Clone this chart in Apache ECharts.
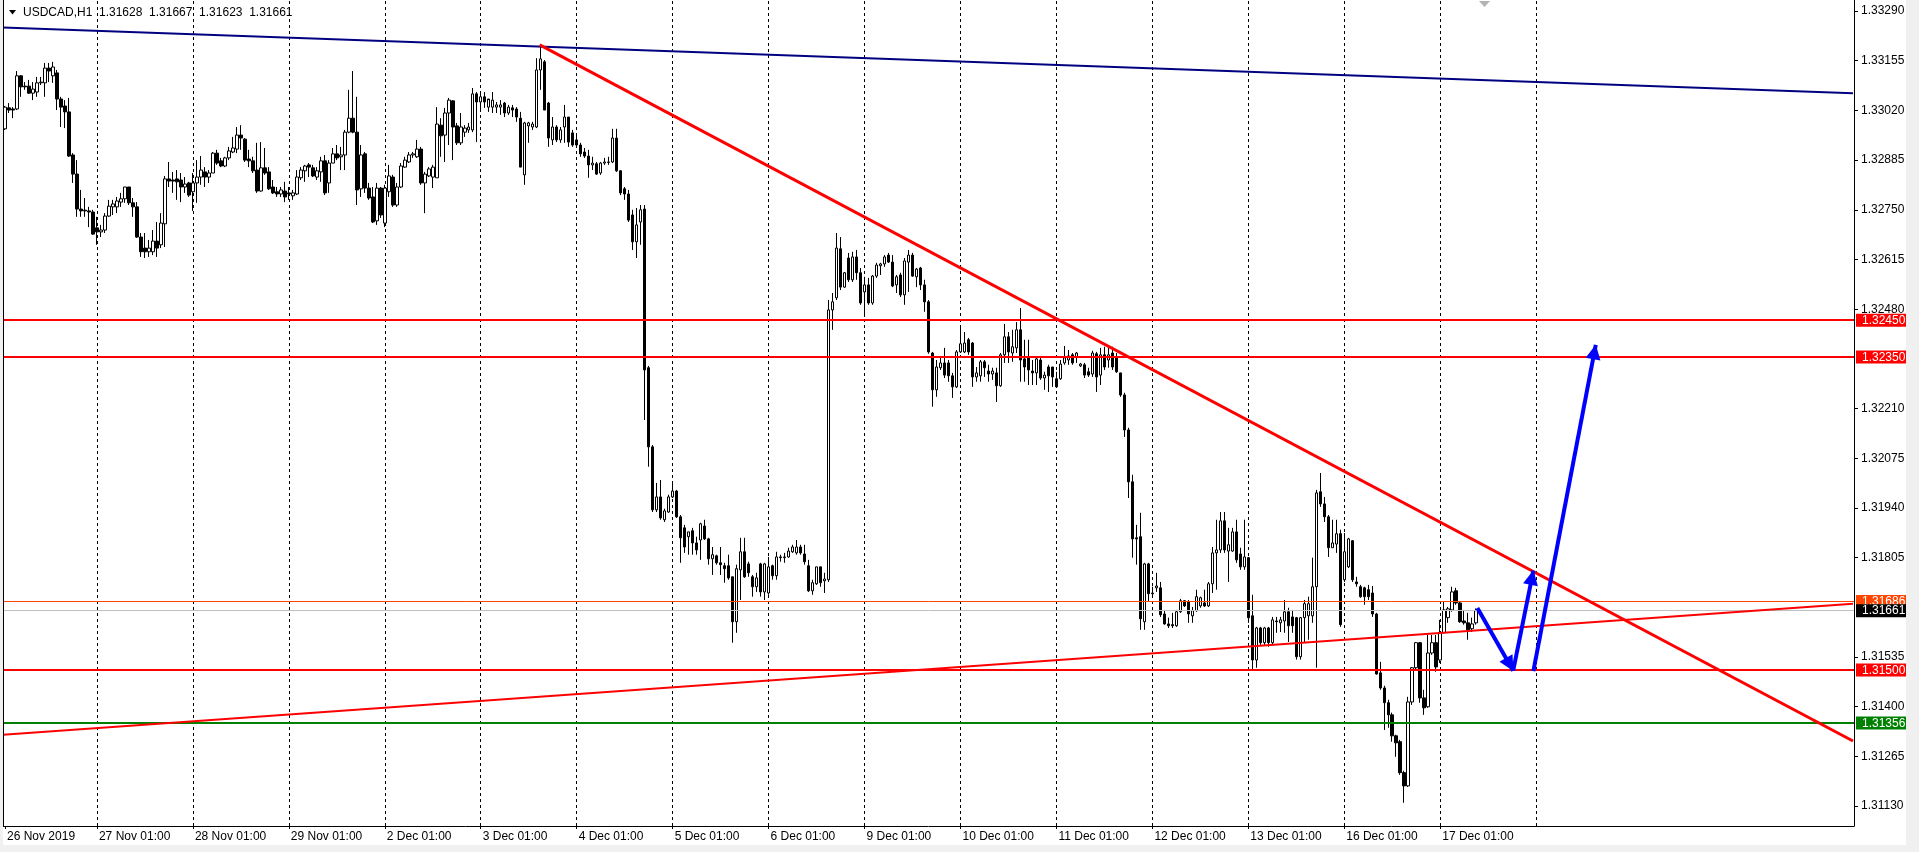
<!DOCTYPE html>
<html>
<head>
<meta charset="utf-8">
<title>USDCAD,H1</title>
<script src="https://cdn.jsdelivr.net/npm/echarts/dist/echarts.min.js"></script>
<style>
html,body{margin:0;padding:0;background:#fff;}
#chart{width:1919px;height:852px;}
</style>
</head>
<body>
<div id="chart"></div>
<script>
// ---------- DATA ----------
const symbolName = 'USDCAD,H1';
// each bar: [open, high, low, close]
const nov26 = [
[1.32970,1.33032,1.32967,1.33029],[1.33027,1.33040,1.33013,1.33021],[1.33024,1.33029,1.32999,1.33021],
[1.33024,1.33127,1.33021,1.33114],[1.33114,1.33116,1.33057,1.33084],[1.33086,1.33097,1.33076,1.33084],
[1.33086,1.33103,1.33065,1.33067],[1.33067,1.33097,1.33048,1.33078],[1.33070,1.33111,1.33057,1.33095],
[1.33095,1.33111,1.33089,1.33097],[1.33095,1.33149,1.33057,1.33135],[1.33135,1.33149,1.33097,1.33127],
[1.33114,1.33152,1.33095,1.33138],[1.33122,1.33130,1.33021,1.33051],[1.33051,1.33057,1.32975,1.33029],
[1.33032,1.33048,1.32972,1.33016],[1.33016,1.33054,1.32894,1.32896],[1.32899,1.32904,1.32823,1.32847],
[1.32847,1.32885,1.32731,1.32752],[1.32752,1.32804,1.32731,1.32747],[1.32749,1.32782,1.32731,1.32747],
[1.32747,1.32758,1.32703,1.32744],[1.32744,1.32750,1.32682,1.32684]
];
const nov27 = [
[1.32701,1.32731,1.32655,1.32690],[1.32690,1.32709,1.32676,1.32695],[1.32695,1.32741,1.32687,1.32733],
[1.32733,1.32777,1.32731,1.32760],[1.32758,1.32777,1.32736,1.32766],[1.32758,1.32785,1.32741,1.32774],
[1.32771,1.32796,1.32758,1.32780],[1.32780,1.32812,1.32769,1.32812],[1.32812,1.32812,1.32763,1.32769],
[1.32769,1.32782,1.32731,1.32758],[1.32758,1.32771,1.32674,1.32676],[1.32676,1.32687,1.32622,1.32636],
[1.32646,1.32687,1.32619,1.32636],[1.32636,1.32668,1.32622,1.32646],[1.32636,1.32695,1.32627,1.32665],
[1.32665,1.32717,1.32622,1.32646],[1.32655,1.32741,1.32646,1.32714],[1.32712,1.32842,1.32649,1.32834],
[1.32834,1.32880,1.32812,1.32828],[1.32831,1.32853,1.32796,1.32828],[1.32834,1.32858,1.32777,1.32826],
[1.32831,1.32850,1.32771,1.32812],[1.32812,1.32839,1.32796,1.32820],[1.32823,1.32826,1.32785,1.32790]
];
const nov28 = [
[1.32799,1.32850,1.32747,1.32823],[1.32823,1.32885,1.32769,1.32839],[1.32839,1.32896,1.32818,1.32858],
[1.32853,1.32866,1.32812,1.32839],[1.32839,1.32858,1.32823,1.32850],[1.32850,1.32907,1.32850,1.32904],
[1.32904,1.32913,1.32872,1.32877],[1.32883,1.32891,1.32866,1.32869],[1.32869,1.32894,1.32866,1.32891],
[1.32891,1.32921,1.32885,1.32910],[1.32907,1.32948,1.32904,1.32918],[1.32915,1.32975,1.32904,1.32953],
[1.32953,1.32980,1.32913,1.32945],[1.32942,1.32945,1.32880,1.32885],[1.32888,1.32913,1.32866,1.32883],
[1.32883,1.32894,1.32850,1.32856],[1.32858,1.32932,1.32796,1.32801],[1.32801,1.32934,1.32799,1.32864],
[1.32864,1.32918,1.32845,1.32850],[1.32853,1.32866,1.32804,1.32807],[1.32812,1.32831,1.32793,1.32796],
[1.32799,1.32812,1.32785,1.32793],[1.32793,1.32812,1.32785,1.32804],[1.32801,1.32826,1.32771,1.32785]
];
const nov29 = [
[1.32796,1.32812,1.32777,1.32793],[1.32788,1.32804,1.32777,1.32796],[1.32793,1.32858,1.32790,1.32839],
[1.32837,1.32866,1.32831,1.32858],[1.32856,1.32872,1.32826,1.32869],[1.32872,1.32877,1.32839,1.32866],
[1.32864,1.32872,1.32839,1.32842],[1.32839,1.32866,1.32831,1.32856],[1.32853,1.32894,1.32826,1.32883],
[1.32883,1.32899,1.32790,1.32796],[1.32823,1.32885,1.32796,1.32877],[1.32877,1.32918,1.32877,1.32902],
[1.32902,1.32926,1.32885,1.32891],[1.32894,1.32921,1.32858,1.32899],[1.32899,1.32967,1.32858,1.32961],
[1.32961,1.33076,1.32958,1.32999],[1.32999,1.33127,1.32958,1.32961],[1.32961,1.33057,1.32763,1.32804],
[1.32807,1.32926,1.32785,1.32899],[1.32902,1.32907,1.32796,1.32809],[1.32809,1.32823,1.32777,1.32782],
[1.32785,1.32812,1.32714,1.32717],[1.32720,1.32823,1.32709,1.32809],[1.32809,1.32812,1.32728,1.32736]
];
const dec02 = [
[1.32714,1.32818,1.32703,1.32809],[1.32799,1.32872,1.32785,1.32842],[1.32839,1.32845,1.32758,1.32763],
[1.32763,1.32823,1.32758,1.32812],[1.32812,1.32877,1.32809,1.32869],[1.32866,1.32894,1.32864,1.32885],
[1.32880,1.32907,1.32877,1.32899],[1.32899,1.32907,1.32891,1.32902],[1.32894,1.32940,1.32891,1.32915],
[1.32915,1.32921,1.32818,1.32823],[1.32823,1.32853,1.32741,1.32847],[1.32842,1.32866,1.32839,1.32861],
[1.32839,1.32872,1.32809,1.32866],[1.32837,1.33029,1.32837,1.32983],[1.32980,1.32999,1.32894,1.32951],
[1.32953,1.33027,1.32880,1.33013],[1.33013,1.33054,1.32926,1.33048],[1.33046,1.33048,1.32885,1.32975],
[1.32978,1.32986,1.32926,1.32932],[1.32932,1.33013,1.32926,1.32975],[1.32961,1.32980,1.32948,1.32972],
[1.32967,1.32986,1.32959,1.32975],[1.32967,1.33081,1.32961,1.33065],[1.33065,1.33070,1.32934,1.33043]
];
const dec03 = [
[1.33043,1.33070,1.33021,1.33057],[1.33057,1.33070,1.33027,1.33043],[1.33029,1.33048,1.33016,1.33051],
[1.33029,1.33070,1.33013,1.33048],[1.33029,1.33043,1.33013,1.33035],[1.33029,1.33048,1.33008,1.33035],
[1.33040,1.33043,1.33002,1.33013],[1.33013,1.33035,1.33008,1.33029],[1.33027,1.33035,1.33002,1.33021],
[1.33024,1.33029,1.32989,1.33002],[1.32999,1.33016,1.32866,1.32866],[1.32845,1.32989,1.32818,1.32986],
[1.32978,1.32989,1.32932,1.32986],[1.32975,1.32989,1.32967,1.32983],[1.32975,1.33162,1.32972,1.33130],
[1.33130,1.33200,1.33076,1.33160],[1.33152,1.33157,1.33021,1.33021],[1.33040,1.33043,1.32921,1.32945],
[1.32940,1.33002,1.32926,1.32975],[1.32975,1.32980,1.32934,1.32940],[1.32940,1.32975,1.32932,1.32967],
[1.32975,1.33035,1.32932,1.33002],[1.33002,1.33002,1.32921,1.32934],[1.32959,1.32967,1.32921,1.32926]
];
const dec04 = [
[1.32940,1.32953,1.32921,1.32926],[1.32926,1.32932,1.32894,1.32902],[1.32907,1.32918,1.32891,1.32896],
[1.32896,1.32913,1.32837,1.32872],[1.32872,1.32894,1.32858,1.32877],[1.32875,1.32880,1.32845,1.32847],
[1.32850,1.32880,1.32845,1.32877],[1.32877,1.32891,1.32872,1.32880],[1.32880,1.32894,1.32872,1.32879],
[1.32880,1.32970,1.32877,1.32945],[1.32945,1.32970,1.32853,1.32856],[1.32856,1.32858,1.32790,1.32796],
[1.32807,1.32812,1.32777,1.32793],[1.32793,1.32804,1.32717,1.32722],[1.32736,1.32750,1.32641,1.32663],
[1.32663,1.32755,1.32619,1.32709],[1.32717,1.32763,1.32655,1.32750],[1.32752,1.32763,1.32179,1.32315],
[1.32321,1.32326,1.32052,1.32106],[1.32106,1.32111,1.31929,1.31935],[1.31935,1.32008,1.31929,1.31970],
[1.31970,1.32016,1.31908,1.31913],[1.31908,1.31938,1.31902,1.31932],[1.31929,1.31976,1.31927,1.31970]
];
const dec05 = [
[1.31970,1.32011,1.31967,1.31986],[1.31986,1.31989,1.31913,1.31916],[1.31916,1.31921,1.31791,1.31859],
[1.31886,1.31894,1.31818,1.31834],[1.31862,1.31875,1.31813,1.31875],[1.31878,1.31886,1.31813,1.31845],
[1.31845,1.31862,1.31813,1.31826],[1.31853,1.31900,1.31799,1.31897],[1.31891,1.31908,1.31853,1.31856],
[1.31856,1.31859,1.31786,1.31802],[1.31802,1.31834,1.31758,1.31813],[1.31810,1.31813,1.31786,1.31791],
[1.31791,1.31834,1.31758,1.31786],[1.31783,1.31791,1.31737,1.31775],[1.31783,1.31813,1.31745,1.31750],
[1.31753,1.31753,1.31574,1.31631],[1.31631,1.31786,1.31601,1.31775],[1.31772,1.31859,1.31690,1.31821],
[1.31821,1.31859,1.31750,1.31753],[1.31788,1.31794,1.31753,1.31764],[1.31753,1.31758,1.31699,1.31726],
[1.31726,1.31764,1.31712,1.31750],[1.31788,1.31791,1.31699,1.31712],[1.31712,1.31791,1.31690,1.31788]
];
const dec06 = [
[1.31709,1.31807,1.31704,1.31780],[1.31783,1.31786,1.31745,1.31756],[1.31756,1.31821,1.31745,1.31807],
[1.31807,1.31813,1.31794,1.31805],[1.31805,1.31818,1.31791,1.31807],[1.31807,1.31832,1.31805,1.31823],
[1.31821,1.31840,1.31818,1.31834],[1.31818,1.31853,1.31813,1.31834],[1.31834,1.31840,1.31813,1.31818],
[1.31815,1.31840,1.31786,1.31794],[1.31783,1.31799,1.31712,1.31715],[1.31715,1.31745,1.31704,1.31737],
[1.31734,1.31780,1.31731,1.31780],[1.31780,1.31780,1.31726,1.31737],[1.31742,1.31764,1.31709,1.31747],
[1.31745,1.32505,1.31739,1.32478],[1.32478,1.32524,1.32424,1.32500],[1.32511,1.32687,1.32505,1.32646],
[1.32644,1.32676,1.32532,1.32540],[1.32540,1.32581,1.32538,1.32579],[1.32619,1.32633,1.32554,1.32560],
[1.32560,1.32636,1.32554,1.32622],[1.32622,1.32641,1.32560,1.32579],[1.32579,1.32592,1.32492,1.32497]
];
const dec09 = [
[1.32527,1.32568,1.32459,1.32546],[1.32546,1.32565,1.32492,1.32497],[1.32497,1.32573,1.32492,1.32570],
[1.32570,1.32606,1.32565,1.32600],[1.32598,1.32606,1.32573,1.32603],[1.32603,1.32627,1.32595,1.32622],
[1.32627,1.32633,1.32606,1.32608],[1.32608,1.32627,1.32540,1.32543],[1.32546,1.32573,1.32524,1.32568],
[1.32573,1.32579,1.32513,1.32519],[1.32519,1.32619,1.32492,1.32611],[1.32608,1.32641,1.32527,1.32627],
[1.32627,1.32633,1.32568,1.32570],[1.32568,1.32592,1.32540,1.32589],[1.32592,1.32595,1.32532,1.32546],
[1.32546,1.32560,1.32473,1.32500],[1.32500,1.32505,1.32359,1.32364],[1.32361,1.32364,1.32215,1.32261],
[1.32261,1.32342,1.32242,1.32323],[1.32321,1.32350,1.32315,1.32334],[1.32334,1.32375,1.32293,1.32301],
[1.32334,1.32342,1.32283,1.32299],[1.32299,1.32307,1.32239,1.32269],[1.32269,1.32369,1.32266,1.32364]
];
const dec10 = [
[1.32364,1.32437,1.32361,1.32386],[1.32364,1.32418,1.32361,1.32388],[1.32397,1.32402,1.32356,1.32364],
[1.32388,1.32391,1.32269,1.32296],[1.32296,1.32323,1.32283,1.32307],[1.32299,1.32342,1.32283,1.32337],
[1.32337,1.32342,1.32296,1.32321],[1.32312,1.32329,1.32283,1.32304],[1.32304,1.32321,1.32288,1.32312],
[1.32307,1.32321,1.32228,1.32272],[1.32272,1.32361,1.32269,1.32356],[1.32356,1.32440,1.32334,1.32405],
[1.32405,1.32418,1.32334,1.32364],[1.32361,1.32424,1.32337,1.32378],[1.32375,1.32445,1.32361,1.32424],
[1.32424,1.32483,1.32283,1.32342],[1.32345,1.32397,1.32283,1.32323],[1.32348,1.32397,1.32274,1.32315],
[1.32312,1.32342,1.32274,1.32307],[1.32307,1.32348,1.32274,1.32345],[1.32342,1.32348,1.32288,1.32293],
[1.32293,1.32310,1.32261,1.32301],[1.32323,1.32329,1.32255,1.32299],[1.32323,1.32323,1.32269,1.32296]
];
const dec11 = [
[1.32291,1.32310,1.32266,1.32269],[1.32291,1.32342,1.32288,1.32331],[1.32334,1.32380,1.32329,1.32348],
[1.32342,1.32369,1.32329,1.32353],[1.32356,1.32361,1.32329,1.32334],[1.32350,1.32364,1.32334,1.32361],
[1.32326,1.32334,1.32323,1.32331],[1.32329,1.32334,1.32293,1.32301],[1.32310,1.32321,1.32296,1.32301],
[1.32304,1.32367,1.32296,1.32361],[1.32359,1.32364,1.32255,1.32296],[1.32301,1.32375,1.32274,1.32356],
[1.32356,1.32378,1.32315,1.32323],[1.32342,1.32378,1.32321,1.32356],[1.32361,1.32378,1.32315,1.32323],
[1.32350,1.32361,1.32307,1.32310],[1.32307,1.32307,1.32242,1.32247],[1.32247,1.32253,1.32133,1.32152],
[1.32152,1.32158,1.31967,1.32011],[1.32011,1.32030,1.31805,1.31856],[1.31859,1.31894,1.31786,1.31856],
[1.31862,1.31927,1.31609,1.31639],[1.31631,1.31791,1.31609,1.31788],[1.31788,1.31791,1.31685,1.31707]
];
const dec12 = [
[1.31707,1.31726,1.31699,1.31709],[1.31723,1.31764,1.31712,1.31728],[1.31723,1.31739,1.31644,1.31650],
[1.31652,1.31663,1.31623,1.31625],[1.31625,1.31642,1.31614,1.31620],[1.31623,1.31655,1.31614,1.31620],
[1.31620,1.31663,1.31617,1.31658],[1.31658,1.31693,1.31655,1.31688],[1.31688,1.31690,1.31671,1.31674],
[1.31685,1.31690,1.31628,1.31652],[1.31647,1.31671,1.31628,1.31661],[1.31661,1.31718,1.31658,1.31699],
[1.31674,1.31699,1.31669,1.31696],[1.31682,1.31718,1.31671,1.31674],[1.31674,1.31739,1.31671,1.31734],
[1.31734,1.31834,1.31709,1.31818],[1.31818,1.31908,1.31718,1.31826],[1.31826,1.31929,1.31818,1.31905],
[1.31905,1.31929,1.31818,1.31826],[1.31823,1.31886,1.31739,1.31840],[1.31823,1.31886,1.31821,1.31875],
[1.31875,1.31908,1.31791,1.31799],[1.31815,1.31832,1.31772,1.31780],[1.31780,1.31908,1.31772,1.31807]
];
const dec13 = [
[1.31805,1.31807,1.31628,1.31642],[1.31647,1.31704,1.31500,1.31527],[1.31527,1.31617,1.31506,1.31614],
[1.31614,1.31617,1.31568,1.31574],[1.31574,1.31617,1.31568,1.31614],[1.31614,1.31617,1.31563,1.31574],
[1.31574,1.31644,1.31568,1.31636],[1.31633,1.31644,1.31601,1.31631],[1.31628,1.31644,1.31603,1.31636],
[1.31633,1.31690,1.31601,1.31658],[1.31658,1.31669,1.31576,1.31620],[1.31644,1.31663,1.31601,1.31620],
[1.31642,1.31644,1.31528,1.31536],[1.31536,1.31644,1.31528,1.31642],[1.31642,1.31690,1.31574,1.31680],
[1.31647,1.31699,1.31582,1.31680],[1.31647,1.31805,1.31628,1.31726],[1.31726,1.31989,1.31506,1.31981],
[1.31984,1.32035,1.31943,1.31951],[1.31951,1.31970,1.31902,1.31916],[1.31916,1.31921,1.31807,1.31832],
[1.31832,1.31908,1.31832,1.31845],[1.31842,1.31908,1.31818,1.31870],[1.31870,1.31881,1.31617,1.31623]
];
const dec16 = [
[1.31745,1.31872,1.31739,1.31821],[1.31780,1.31859,1.31777,1.31856],[1.31851,1.31853,1.31739,1.31745],
[1.31739,1.31753,1.31726,1.31734],[1.31726,1.31731,1.31696,1.31699],[1.31723,1.31726,1.31677,1.31699],
[1.31718,1.31731,1.31690,1.31699],[1.31709,1.31728,1.31644,1.31652],[1.31652,1.31655,1.31487,1.31489],
[1.31492,1.31522,1.31446,1.31451],[1.31451,1.31457,1.31337,1.31411],[1.31411,1.31419,1.31343,1.31378],
[1.31378,1.31384,1.31305,1.31321],[1.31321,1.31324,1.31264,1.31302],[1.31305,1.31310,1.31215,1.31221],
[1.31221,1.31226,1.31139,1.31185],[1.31185,1.31427,1.31182,1.31413],[1.31413,1.31508,1.31405,1.31506],
[1.31506,1.31576,1.31500,1.31574],[1.31574,1.31576,1.31411,1.31424],[1.31424,1.31446,1.31378,1.31397],
[1.31400,1.31595,1.31397,1.31546],[1.31546,1.31595,1.31541,1.31574],[1.31574,1.31595,1.31495,1.31508]
];
const dec17 = [
[1.31527,1.31636,1.31519,1.31601],[1.31601,1.31685,1.31601,1.31663],[1.31642,1.31671,1.31628,1.31666],
[1.31663,1.31726,1.31658,1.31712],[1.31715,1.31723,1.31677,1.31682],[1.31682,1.31685,1.31628,1.31631],
[1.31633,1.31663,1.31623,1.31628],[1.31628,1.31655,1.31582,1.31609],[1.31612,1.31642,1.31603,1.31625],
[1.31628,1.31667,1.31623,1.31661]
];

// time axis
const totalSlots = 463;                         // bar slots across the chart window (data + empty shift area)
const tickLabels = ['26 Nov 2019','27 Nov 01:00','28 Nov 01:00','29 Nov 01:00','2 Dec 01:00','3 Dec 01:00',
  '4 Dec 01:00','5 Dec 01:00','6 Dec 01:00','9 Dec 01:00','10 Dec 01:00','11 Dec 01:00','12 Dec 01:00',
  '13 Dec 01:00','16 Dec 01:00','17 Dec 01:00'];
const tickBars = [0,23,47,71,95,119,143,167,191,215,239,263,287,311,335,359];
const gridBars = [23,47,71,95,119,143,167,191,215,239,263,287,311,335,359,383];

// price axis
const priceMin = 1.31076, priceMax = 1.33320;
const priceTicks = [1.33290,1.33155,1.33020,1.32885,1.32750,1.32615,1.32480,1.32210,1.32075,
  1.31940,1.31805,1.31535,1.31400,1.31265,1.31130];

// horizontal levels
const levelPrices = [1.32450, 1.32350, 1.31686, 1.31661, 1.31500, 1.31356];

// drawn objects: [barIndex, price]
const blueTrend  = [[-0.5, 1.33245], [462.25, 1.33067]];
const redFalling = [[133.75, 1.33198], [462.25, 1.31307]];
const redRising  = [[-0.5, 1.31324], [462.25, 1.31680]];
const arrowPaths = [
  [[368.3, 1.31668], [377.25, 1.31498]],
  [[377.25, 1.31498], [382.3, 1.31770]],
  [[382.3, 1.31497], [397.9, 1.32383]]
];

// ---------- CHART ----------
const days = [nov26,nov27,nov28,nov29,dec02,dec03,dec04,dec05,dec06,dec09,dec10,dec11,dec12,dec13,dec16,dec17];
const bars = [].concat(...days);
const candleData = bars.map(b => [b[0], b[3], b[2], b[1]]); // open, close, low, high
const catData = Array.from({length: totalSlots}, (_, i) => String(i));
const lastBar = bars[bars.length - 1];
const FONT = '"Liberation Sans", Arial, sans-serif';

const levelStyles = [
  {color:'#FF0000', width:2}, {color:'#FF0000', width:2}, {color:'#FF4500', width:1},
  {color:'#C0C0C0', width:1}, {color:'#FF0000', width:2}, {color:'#008000', width:2}
];
const levelBg = ['#FF0000','#FF0000','#FF4500','#000000','#FF0000','#008000'];
const rich = {};
levelBg.forEach((c, k) => {
  rich['l' + k] = {backgroundColor: c, color: '#FFFFFF', padding: [1, 6, 0, 6], fontSize: 12,
                   lineHeight: 12, fontFamily: FONT};
});

const chart = echarts.init(document.getElementById('chart'), null, {renderer: 'canvas'});
const xL = -0.5, xR = totalSlots - 0.5;

chart.setOption({
  animation: false,
  backgroundColor: '#FFFFFF',
  grid: {left: 3, right: 65, top: 0, bottom: 26, show: false},
  xAxis: [
    {type: 'category', data: catData, show: false, boundaryGap: true},
    {type: 'value', min: xL, max: xR, position: 'bottom',
     axisLine: {show: true, onZero: false, lineStyle: {color: '#000000', width: 1}},
     axisTick: {show: true, customValues: tickBars, length: 3, lineStyle: {color: '#000000'}},
     axisLabel: {customValues: tickBars, align: 'left', margin: 5, padding: [0, 0, 0, 2],
                 color: '#000000', fontFamily: FONT, fontSize: 12,
                 formatter: v => tickLabels[tickBars.indexOf(Math.round(v))] || ''},
     splitLine: {show: false}}
  ],
  yAxis: [
    {type: 'value', position: 'right', min: priceMin, max: priceMax,
     axisLine: {show: true, onZero: false, lineStyle: {color: '#000000', width: 1}},
     axisTick: {show: true, customValues: priceTicks, length: 4, lineStyle: {color: '#000000'}},
     axisLabel: {customValues: priceTicks, margin: 7, color: '#000000', fontFamily: FONT, fontSize: 12,
                 formatter: v => v.toFixed(5)},
     splitLine: {show: false}},
    {type: 'value', position: 'right', min: priceMin, max: priceMax,
     axisLine: {show: false}, axisTick: {show: false}, splitLine: {show: false},
     axisLabel: {customValues: levelPrices, margin: 2, rich: rich,
                 formatter: v => {
                   const k = levelPrices.findIndex(p => Math.abs(p - v) < 1e-7);
                   return '{l' + k + '|' + v.toFixed(5) + '}';
                 }}}
  ],
  series: [
    { // vertical dashed grid
      type: 'lines', coordinateSystem: 'cartesian2d', xAxisIndex: 1, yAxisIndex: 0, z: 1, silent: true,
      data: gridBars.map(b => ({coords: [[b, priceMin], [b, priceMax]]})),
      lineStyle: {color: '#000000', width: 1, type: [3, 3], opacity: 1}
    },
    {
      type: 'candlestick', xAxisIndex: 0, yAxisIndex: 0, z: 2, silent: true,
      data: candleData, barWidth: 3,
      itemStyle: {color: '#FFFFFF', color0: '#000000', borderColor: '#000000',
                  borderColor0: '#000000', borderColorDoji: '#000000', borderWidth: 1}
    },
    { // horizontal levels
      type: 'lines', coordinateSystem: 'cartesian2d', xAxisIndex: 1, yAxisIndex: 0, z: 3, silent: true,
      data: levelPrices.map((p, k) => ({coords: [[xL, p], [xR, p]],
        lineStyle: {color: levelStyles[k].color, width: levelStyles[k].width, opacity: 1}}))
    },
    { // trend lines
      type: 'lines', coordinateSystem: 'cartesian2d', xAxisIndex: 1, yAxisIndex: 0, z: 4, silent: true,
      data: [
        {coords: blueTrend, lineStyle: {color: '#000080', width: 2, opacity: 1}},
        {coords: redFalling, lineStyle: {color: '#FF0000', width: 3, opacity: 1}},
        {coords: redRising, lineStyle: {color: '#FF0000', width: 2, opacity: 1}}
      ]
    },
    { // forecast arrows (markLine so the arrow head can sit with its tip on the end point)
      type: 'line', xAxisIndex: 1, yAxisIndex: 0, z: 5, silent: true,
      data: [arrowPaths[0][0]], showSymbol: false, symbol: 'none', lineStyle: {width: 0, opacity: 0},
      markLine: {
        silent: true, animation: false, symbol: ['none', 'triangle'], symbolSize: 15,
        label: {show: false}, emphasis: {disabled: true},
        lineStyle: {color: '#0000FF', width: 4, type: 'solid', opacity: 1},
        data: arrowPaths.map(a => [{coord: a[0]}, {coord: a[1], symbol: 'triangle', symbolOffset: [0, 7]}])
      }
    }
  ],
  graphic: [
    {type: 'rect', shape: {x: 0, y: 0, width: 3, height: 852}, style: {fill: '#F0F0F0'}, z: 10, silent: true},
    {type: 'rect', shape: {x: 1906, y: 0, width: 13, height: 852}, style: {fill: '#F0F0F0'}, z: 10, silent: true},
    {type: 'rect', shape: {x: 0, y: 845, width: 1919, height: 7}, style: {fill: '#F0F0F0'}, z: 10, silent: true},
    {type: 'line', shape: {x1: 3.5, y1: 0, x2: 3.5, y2: 826}, style: {stroke: '#000000', lineWidth: 1}, z: 10, silent: true},
    {type: 'polygon', shape: {points: [[1479, 1], [1490, 1], [1484.5, 7]]}, style: {fill: '#B4B4B4'}, z: 10, silent: true},
    {type: 'polygon', shape: {points: [[9, 10], [16, 10], [12.5, 14.5]]}, style: {fill: '#000000'}, z: 10, silent: true},
    {type: 'text', x: 23, y: 13, z: 10, silent: true,
     style: {text: symbolName + '  ' + lastBar.map(v => v.toFixed(5)).join('  '),
             font: '12px ' + FONT, fill: '#000000', verticalAlign: 'middle', align: 'left'}}
  ]
});
</script>
</body>
</html>
